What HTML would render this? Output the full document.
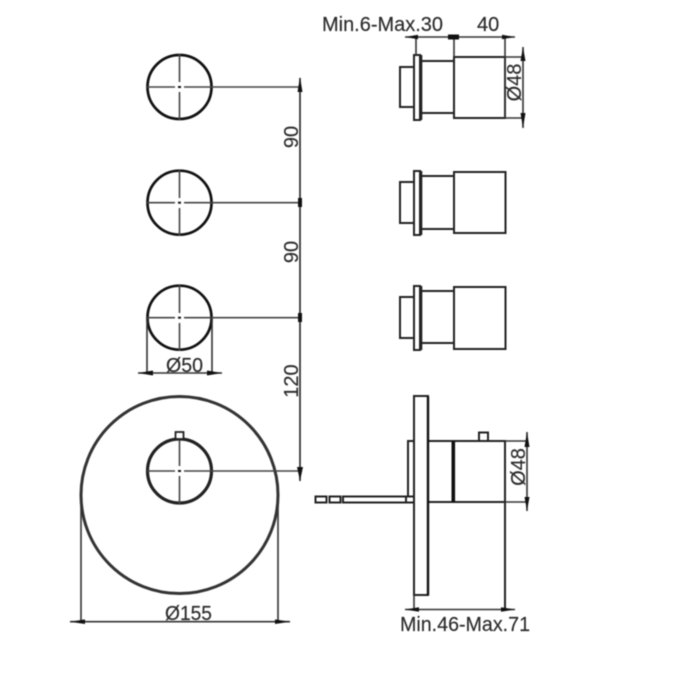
<!DOCTYPE html>
<html>
<head>
<meta charset="utf-8">
<style>
html,body{margin:0;padding:0;background:#fff;width:700px;height:700px;overflow:hidden}
svg{display:block;filter:blur(0.45px)}
text{font-family:"Liberation Sans",sans-serif;font-size:20px;fill:#2a2a2a;stroke:#2a2a2a;stroke-width:0.15px}
</style>
</head>
<body>
<svg width="700" height="700" viewBox="0 0 700 700" xmlns="http://www.w3.org/2000/svg">
<rect width="700" height="700" fill="#fff"/>

<!-- circles -->
<g fill="none" stroke="#111" stroke-width="2.7">
<circle cx="179.5" cy="87" r="32"/>
<circle cx="179.5" cy="202.7" r="32"/>
<circle cx="179.5" cy="317.7" r="32"/>
</g>
<circle cx="179.5" cy="471" r="32" fill="none" stroke="#222" stroke-width="3.2"/>
<circle cx="179.5" cy="495" r="98.5" fill="none" stroke="#333" stroke-width="3"/>

<!-- centre lines -->
<g fill="none" stroke="#444" stroke-width="1.6">
<path d="M147 87H175M184 87H300M179.5 54V82M179.5 92V120"/>
<path d="M147 202.7H175M184 202.7H300M179.5 170V198M179.5 208V236"/>
<path d="M147 317.7H175M184 317.7H300M179.5 285V313M179.5 323V351"/>
<path d="M147 471H175M184 471H300M179.5 438V466M179.5 476V504"/>
</g>
<g fill="#111">
<rect x="178" y="86" width="3" height="2"/>
<rect x="178" y="201.7" width="3" height="2"/>
<rect x="178" y="316.7" width="3" height="2"/>
<rect x="178" y="470" width="3" height="2"/>
</g>
<rect x="175.5" y="432" width="8" height="7" fill="#fff" stroke="#222" stroke-width="1.8"/>

<!-- vertical dimension -->
<path d="M300 78V481" stroke="#222" stroke-width="1.6" fill="none"/>
<g fill="#111">
<path d="M300 77L297.5 92H302.5Z"/>
<path d="M300 481L297 467H303Z"/>
<rect x="298" y="198" width="4" height="9"/>
<rect x="298" y="313" width="4" height="9"/>
</g>

<!-- phi dims -->
<g stroke="#333" stroke-width="1.6" fill="none">
<path d="M147 318V373M212 318V373M138 373H222"/>
<path d="M81 500V622M278 500V622M70 621.7H290"/>
</g>
<g fill="#111">
<path d="M138 373L153 370.5V375.5Z"/>
<path d="M222 373L207 370.5V375.5Z"/>
<path d="M70 621.7L85 619.4V624Z"/>
<path d="M290 621.7L275 619.4V624Z"/>
</g>

<!-- top right views -->
<g fill="none" stroke="#222" stroke-width="2">
<path d="M414 67H400V107H414"/>
<rect x="414" y="55" width="6" height="65"/>
<path d="M420 61H454M420 113H454"/>
<rect x="454" y="57" width="51" height="61"/>

<path d="M414 182H400V223H414"/>
<rect x="414" y="171" width="6" height="64"/>
<path d="M420 176H454M420 229H454"/>
<rect x="454" y="172" width="51.5" height="61"/>

<path d="M414 297H400V338H414"/>
<rect x="414" y="286" width="6" height="64"/>
<path d="M420 291H454M420 343H454"/>
<rect x="454" y="287" width="51.5" height="62"/>
</g>
<path d="M421.5 55V120M421.5 171V235M421.5 286V350" stroke="#222" stroke-width="1.6"/>

<!-- top dims -->
<g stroke="#333" stroke-width="1.6" fill="none">
<path d="M405 37H515M416 37V55M454 37V57M505 37V118M505 57H523M505 118H523M523 47V128"/>
</g>
<g fill="#111">
<path d="M405 37L418 34.8V39.2Z"/>
<rect x="448" y="34.5" width="11" height="5"/>
<path d="M515 37L502 34.8V39.2Z"/>
<path d="M523 47L520.5 61H525.5Z"/>
<path d="M523 128L520.5 113H525.5Z"/>
</g>

<!-- section view -->
<g fill="none" stroke="#222" stroke-width="2">
<rect x="414" y="396" width="14" height="199"/>
<path d="M414 441H408V496"/>
<path d="M428 441H505V502H428"/>
<path d="M505 441V610"/>
<path d="M479 441V432.5H488V441"/>
<rect x="315.5" y="496.5" width="11" height="6"/>
<rect x="329.5" y="496.5" width="11" height="6"/>
<rect x="343" y="496.5" width="71" height="6"/>
<path d="M406 496.5V502.5"/>
</g>
<rect x="451.5" y="441" width="3.6" height="61" fill="#111"/>
<path d="M428 396.5V595" stroke="#111" stroke-width="2.4" fill="none"/>

<!-- section dims -->
<g stroke="#333" stroke-width="1.6" fill="none">
<path d="M505 441H527M505 502H527M527 432V511M414 595V610M405 609.5H515"/>
</g>
<g fill="#111">
<path d="M527 432L524.5 447H529.5Z"/>
<path d="M527 511L524.5 497H529.5Z"/>
<path d="M405 609.5L419 607.2V611.8Z"/>
<path d="M515 609.5L501 607.2V611.8Z"/>
</g>

<!-- labels -->
<text x="322" y="31" textLength="121" lengthAdjust="spacingAndGlyphs">Min.6-Max.30</text>
<text x="477" y="31">40</text>
<text x="400" y="631" textLength="130" lengthAdjust="spacingAndGlyphs">Min.46-Max.71</text>
<text x="166" y="372" textLength="37" lengthAdjust="spacingAndGlyphs">Ø50</text>
<text x="165" y="620" textLength="47" lengthAdjust="spacingAndGlyphs">Ø155</text>
<text transform="translate(298,137) rotate(-90)" text-anchor="middle">90</text>
<text transform="translate(298,252) rotate(-90)" text-anchor="middle">90</text>
<text transform="translate(298,381) rotate(-90)" text-anchor="middle">120</text>
<text transform="translate(521,82.5) rotate(-90)" text-anchor="middle">Ø48</text>
<text transform="translate(525,467) rotate(-90)" text-anchor="middle">Ø48</text>
</svg>
</body>
</html>
